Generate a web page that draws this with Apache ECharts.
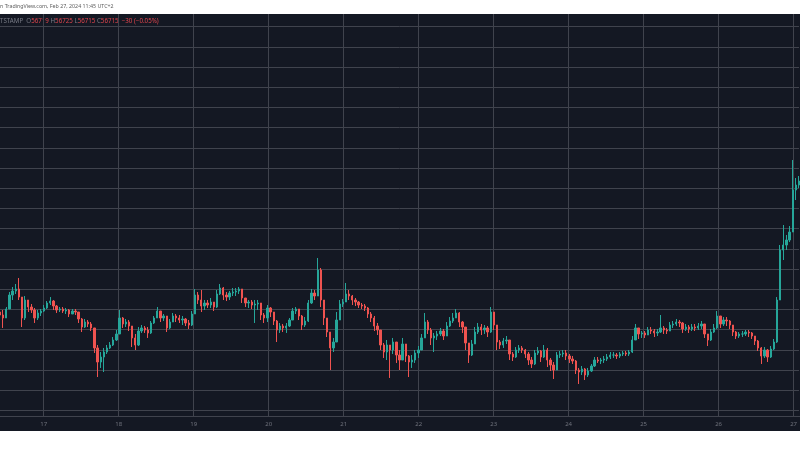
<!DOCTYPE html>
<html>
<head>
<meta charset="utf-8">
<script src="https://cdn.jsdelivr.net/npm/echarts@6/dist/echarts.min.js"></script>
<style>
html,body{margin:0;padding:0;background:#ffffff;}
#bg{position:absolute;left:0;top:14px;width:800px;height:417px;background:#141823;}
#c{position:absolute;left:0;top:0;width:800px;height:450px;}
</style>
</head>
<body>
<div id="bg"></div>
<div id="c"></div>
<script>
// Hourly BTCUSD (Bitstamp) candles, Feb 16 10:00 -> Feb 27 00:00
const firstOpen = 51948;
const closes = [
51889,51830,52008,52285,52364,52404,52245,51830,52186,52047,51988,51830,51929,51968,52028,52127,52166,52067,51988,52008,
51968,51988,51909,51968,51948,51810,51651,51750,51711,51632,51236,50958,51057,51156,51236,51295,51394,51513,51830,51711,
51750,51671,51434,51295,51572,51632,51592,51533,51731,51830,51968,51830,51869,51632,51750,51869,51830,51790,51810,51731,
51691,51909,52285,52186,52067,52127,52087,52146,52047,52305,52424,52285,52245,52325,52344,52364,52404,52226,52127,52146,
52087,52107,52127,51889,51830,52028,51948,51770,51592,51671,51632,51671,51790,51968,52008,51869,51691,51770,52127,52325,
52265,52780,52186,51830,51552,51236,51354,51790,52107,52146,52305,52265,52186,52146,52087,52067,52028,51909,51830,51671,
51592,51295,51156,51295,51196,51354,51097,50998,51315,51077,50958,50998,51137,51196,51434,51750,51592,51434,51473,51513,
51572,51473,51671,51770,51830,51929,51750,51651,51335,51097,51315,51552,51651,51592,51632,51552,51948,51691,51354,51295,
51374,51394,51117,51057,51196,51236,51196,51117,50998,50919,51137,51176,51057,51196,50998,50899,50800,51097,51117,51137,
51077,51018,50978,50800,50760,50820,50701,50780,50879,50998,50978,50998,51018,51057,51097,51097,51077,51117,51137,51117,
51156,51394,51632,51513,51533,51493,51592,51572,51533,51552,51632,51592,51572,51691,51711,51750,51731,51612,51651,51612,
51651,51632,51671,51711,51513,51394,51552,51632,51869,51711,51790,51770,51691,51552,51473,51513,51513,51552,51533,51473,
51374,51236,51077,51196,51057,51216,51354,52186,53176,53275,53374,53532,54364,54463,54542
];
const highs = [
52008,51988,52047,52344,52443,52503,52622,52245,52265,52186,52107,52028,51988,52008,52087,52166,52245,52186,52087,52047,
52047,52028,52008,52008,52008,51948,51830,51810,51790,51750,51632,51295,51156,51236,51295,51354,51453,51592,51988,51849,
51810,51790,51671,51513,51651,51691,51671,51651,51770,51869,52047,51968,51909,51869,51810,51929,51909,51889,51869,51830,
51790,51968,52404,52344,52384,52186,52186,52226,52146,52384,52503,52443,52344,52364,52424,52424,52443,52404,52226,52186,
52186,52186,52186,52127,51929,52087,52047,51948,51790,51731,51711,51731,51830,52028,52047,52008,51889,51849,52186,52404,
52384,53018,52820,52186,51830,51552,51434,51948,52186,52206,52523,52384,52285,52226,52166,52127,52107,52047,51948,51869,
51731,51552,51335,51394,51295,51434,51354,51196,51434,51315,51097,51097,51196,51275,51513,51929,51790,51632,51533,51572,
51632,51612,51750,51849,51929,52008,51948,51770,51651,51335,51394,51651,51731,51711,51691,51671,52047,51948,51691,51394,
51434,51473,51394,51156,51255,51295,51275,51216,51156,51057,51196,51255,51196,51295,51236,51038,50958,51156,51176,51196,
51196,51117,51077,50998,50840,50879,50840,50840,50919,51057,51057,51038,51077,51117,51156,51156,51137,51156,51176,51176,
51196,51473,51711,51632,51572,51572,51651,51651,51612,51612,51889,51671,51632,51750,51770,51810,51790,51750,51711,51691,
51711,51711,51731,51770,51711,51513,51612,51711,51968,51869,51849,51849,51790,51691,51572,51552,51572,51592,51592,51552,
51473,51394,51255,51255,51216,51275,51414,52245,53275,53671,53473,53651,54958,54602,54641
];
const lows = [
51830,51632,51830,52008,52186,52305,52186,51651,51790,51948,51929,51731,51790,51869,51948,52008,52087,51988,51929,51948,
51929,51909,51849,51909,51889,51731,51552,51632,51651,51572,51137,50661,50840,50760,51117,51216,51275,51374,51513,51632,
51651,51572,51255,51196,51275,51533,51533,51434,51513,51711,51830,51750,51770,51552,51612,51750,51750,51731,51691,51671,
51612,51671,51909,52107,51948,51988,52028,52028,51968,52028,52285,52186,52166,52186,52265,52265,52305,52127,52047,52028,
52008,51731,51988,51790,51731,51750,51849,51691,51354,51533,51552,51533,51651,51790,51909,51790,51592,51651,51750,52107,
52186,52265,52047,51691,51453,50800,51156,51354,51790,52047,52146,52186,52087,52067,52028,52008,51968,51830,51750,51572,
51493,51196,51038,50998,50642,51117,50939,50800,51038,50958,50661,50840,50939,51038,51196,51434,51513,51295,51156,51394,
51473,51394,51473,51651,51731,51830,51651,51533,51196,50939,51077,51315,51513,51493,51513,51453,51533,51592,51196,51216,
51236,51315,50998,50978,51038,51137,51137,51038,50899,50840,50899,51097,50958,51038,50859,50780,50622,50800,51038,51057,
50998,50939,50919,50721,50523,50701,50602,50661,50760,50859,50939,50919,50939,50978,51018,51038,51018,51038,51077,51077,
51077,51137,51394,51414,51434,51434,51493,51513,51453,51473,51533,51513,51513,51572,51632,51671,51651,51533,51572,51533,
51572,51572,51592,51612,51434,51275,51374,51533,51612,51632,51671,51671,51612,51473,51414,51434,51453,51473,51453,51414,
51295,51176,50919,51038,50958,51038,51196,51335,52186,52978,53176,53334,53532,54166,54404
];
// price-scale tick step and range
const priceMin = 49600, priceMax = 58000, priceStep = 400;
const startUTC = Date.UTC(2024, 1, 16, 10);
const headerSource = 'TSTAMP';
const headerVals = { O: '56719', H: '56725', L: '56715', C: '56715', chg: '\u221230 (\u22120.05%)' };
const stampText = 'n TradingView.com, Feb 27, 2024 11:45 UTC+2';

function pad(n){ return (n < 10 ? '0' : '') + n; }
const categories = closes.map(function(_, i){
  const d = new Date(startUTC + i * 3600000);
  return pad(d.getUTCMonth() + 1) + '-' + pad(d.getUTCDate()) + ' ' + pad(d.getUTCHours()) + ':00';
});
const ohlc = closes.map(function(c, i){
  const o = i === 0 ? firstOpen : closes[i - 1];
  const h = Math.max(highs[i], o, c);
  const l = Math.min(lows[i], o, c);
  return [o, c, l, h];
});
const isDayStart = function(index, value){ return /00:00$/.test(value); };

const gridColor = '#40434d';
const chart = echarts.init(document.getElementById('c'), null, { renderer: 'canvas' });
chart.setOption({
  animation: false,
  backgroundColor: 'transparent',
  graphic: [
    { type: 'line', silent: true, z: 5,
      shape: { x1: 0, y1: 416.5, x2: 800, y2: 416.5 },
      style: { stroke: gridColor, lineWidth: 1 } },
    { type: 'text', silent: true, left: 0, top: 4,
      style: { text: stampText, fill: '#5d5d5d', font: '5.3px "Noto Sans"' } },
    { type: 'text', silent: true, left: 0, top: 18,
      style: {
        text: '{g|' + headerSource + '  O}{r|' + headerVals.O + '}{g| H}{r|' + headerVals.H +
              '}{g| L}{r|' + headerVals.L + '}{g| C}{r|' + headerVals.C + '}{r|  ' + headerVals.chg + '}',
        rich: {
          g: { fill: '#787b86', font: '6.2px "Noto Sans"' },
          r: { fill: '#e0454d', font: '6.2px "Noto Sans"' }
        }
      } }
  ],
  grid: [
    { left: -1, right: 1, top: 14, bottom: 34 },
    { left: -1, right: 1, top: 6.4, bottom: 19.4 }
  ],
  xAxis: [
    { gridIndex: 0, type: 'category', data: categories, boundaryGap: false,
      axisLine: { show: false }, axisTick: { show: false },
      axisLabel: { interval: isDayStart, color: '#6f727c', fontSize: 6, margin: 5,
                   fontFamily: 'Noto Sans',
                   formatter: function(v){ return String(parseInt(v.slice(3, 5), 10)); } },
      splitLine: { show: true, interval: isDayStart, lineStyle: { color: gridColor, width: 1 } } },
    { gridIndex: 1, type: 'category', data: categories, boundaryGap: false, show: false }
  ],
  yAxis: [
    { gridIndex: 0, type: 'value', min: 0, max: 1, show: false, splitLine: { show: false } },
    { gridIndex: 1, type: 'value', min: priceMin, max: priceMax, interval: priceStep,
      axisLine: { show: false }, axisTick: { show: false }, axisLabel: { show: false },
      splitLine: { show: true, showMinLine: false, showMaxLine: false,
                   lineStyle: { color: gridColor, width: 1 } } }
  ],
  series: [{
    type: 'candlestick', xAxisIndex: 1, yAxisIndex: 1, data: ohlc,
    barWidth: 1.8,
    itemStyle: { color: '#26a69a', color0: '#ef5350', borderColor: '#26a69a', borderColor0: '#ef5350', borderWidth: 1 }
  }]
});
</script>
</body>
</html>
